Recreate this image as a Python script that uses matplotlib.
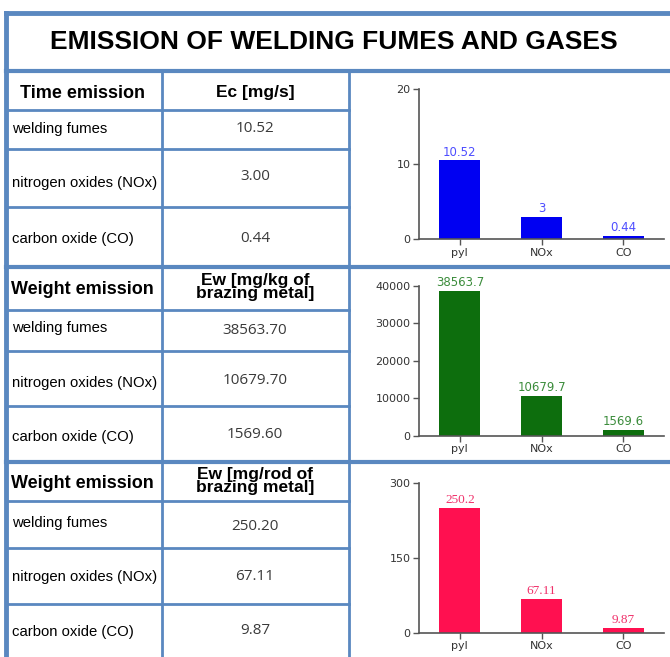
import matplotlib.pyplot as plt
import numpy as np

# data
title = 'EMISSION OF WELDING FUMES AND GASES'
row_labels = ['welding fumes', 'nitrogen oxides (NOx)', 'carbon oxide (CO)']
categories = ['pyl', 'NOx', 'CO']
headers = ['Time emission', 'Weight emission', 'Weight emission']
units = ['Ec [mg/s]', 'Ew [mg/kg of\nbrazing metal]', 'Ew [mg/rod of\nbrazing metal]']
time_emission = [10.52, 3.00, 0.44]
weight_kg = [38563.70, 10679.70, 1569.60]
weight_rod = [250.20, 67.11, 9.87]
series = [time_emission, weight_kg, weight_rod]
yticks = [[0, 10, 20], [0, 10000, 20000, 30000, 40000], [0, 150, 300]]

W, H = 670, 657
fig = plt.figure(figsize=(W / 100, H / 100), dpi=100)
bg = fig.add_axes([0, 0, 1, 1])
bg.set_xlim(0, W)
bg.set_ylim(H, 0)
bg.axis('off')

lc = '#5a88c0'
# outer frame / section lines
bg.plot([6, W], [13, 13], color=lc, lw=3.5)
bg.plot([6, 6], [13, H], color=lc, lw=3.5)
for y in [71, 267, 462]:
    bg.plot([6, W], [y, y], color=lc, lw=3)
for x in [162, 349]:
    bg.plot([x, x], [71, H], color=lc, lw=2)
# inner rows of the table
for y in [110, 149, 207, 310, 351, 406, 501, 548, 604]:
    bg.plot([6, 349], [y, y], color=lc, lw=2)

bg.text(334, 42, title, ha='center', va='center', fontsize=19,
        fontweight='bold', family='Liberation Sans')

head_y = [93, 290, 484]
unit_y = [92, 287, 481]
row_y = [[129, 183, 239], [328, 383, 437], [523, 577, 632]]
val_y = [[129, 176, 239], [330, 380, 434], [526, 576, 631]]
for i in range(3):
    bg.text(82, head_y[i], headers[i], ha='center', va='center', fontsize=13,
            fontweight='bold', family='Liberation Sans')
    bg.text(255, unit_y[i], units[i], ha='center', va='center', fontsize=12.5,
            fontweight='bold', family='Liberation Sans', linespacing=0.85)
    for j in range(3):
        bg.text(12, row_y[i][j], row_labels[j], ha='left', va='center',
                fontsize=10.7, family='Liberation Sans')
        bg.text(255, val_y[i][j], f'{series[i][j]:.2f}', ha='center', va='center',
                fontsize=11, family='Open Sans', color='#3a3a3a')

# bar charts
bar_cols = ['#0000f2', '#0d6e0d', '#ff1050']
lab_cols = ['#4d4dff', '#3b8c3b', '#f0306a']
lab_fonts = ['DejaVu Sans', 'DejaVu Sans', 'Liberation Serif']
lab_sizes = [8.5, 8.5, 9.5]
boxes = [(89.3, 239.3), (285.7, 435.7), (483.3, 632.7)]
x = np.arange(len(categories))
for i in range(3):
    top, bot = boxes[i]
    ax = fig.add_axes([419 / W, 1 - bot / H, (664 - 419) / W, (bot - top) / H])
    vals = series[i]
    ax.bar(x, vals, width=0.5, color=bar_cols[i])
    ymax = yticks[i][-1]
    for xi, v in zip(x, vals):
        ax.text(xi, v + ymax * 0.012, f'{v:g}', ha='center', va='bottom',
                fontsize=lab_sizes[i], color=lab_cols[i], family=lab_fonts[i])
    ax.set_xlim(-0.5, 2.5)
    ax.set_ylim(0, ymax)
    ax.set_yticks(yticks[i])
    ax.set_xticks(x)
    ax.set_xticklabels(categories)
    for s in ['top', 'right']:
        ax.spines[s].set_visible(False)
    for s in ['left', 'bottom']:
        ax.spines[s].set_color('#555555')
        ax.spines[s].set_linewidth(1.2)
    ax.tick_params(axis='both', labelsize=8, colors='#555555', labelcolor='#333333',
                   length=4, width=1, pad=2)
    ax.set_facecolor('none')

fig.savefig('out.png', dpi=100)
